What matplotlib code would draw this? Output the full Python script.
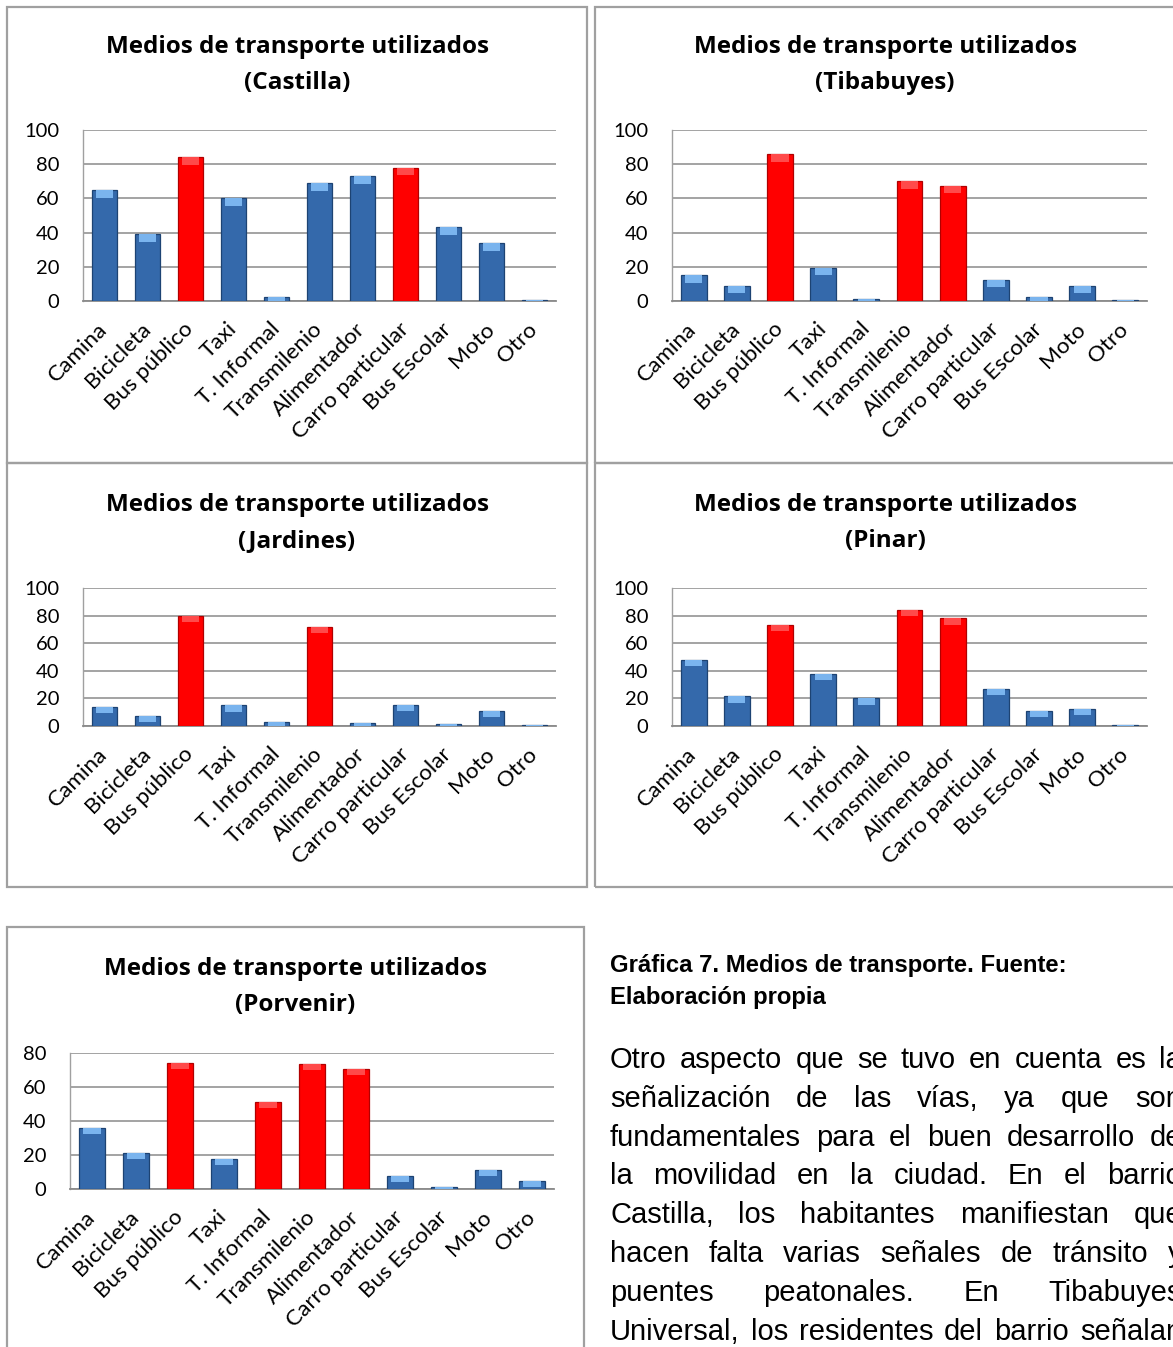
import matplotlib
matplotlib.use("Agg")
import matplotlib.pyplot as plt
from matplotlib.patches import Rectangle

# categories and survey values (percent of respondents)
categorias = ["Camina", "Bicicleta", "Bus público", "Taxi", "T. Informal",
              "Transmilenio", "Alimentador", "Carro particular", "Bus Escolar",
              "Moto", "Otro"]

castilla = [65, 39, 84, 60, 2.5, 69, 73, 78, 43, 34, 0.4]
tibabuyes = [15, 9, 86, 19.5, 1, 70, 67.5, 12.5, 2.5, 9, 0.4]
jardines = [14, 7.5, 80, 15, 3, 72, 2, 15.5, 1.5, 11, 0.5]
pinar = [48, 21.5, 73, 38, 20, 84, 78, 27, 11, 12.5, 0.7]
porvenir = [36, 21, 74, 17.5, 51, 73.5, 70.5, 7.5, 1, 11, 5]

# which bars are highlighted in red
rojo_castilla = ["Bus público", "Carro particular"]
rojo_tibabuyes = ["Bus público", "Transmilenio", "Alimentador"]
rojo_jardines = ["Bus público", "Transmilenio"]
rojo_pinar = ["Bus público", "Transmilenio", "Alimentador"]
rojo_porvenir = ["Bus público", "T. Informal", "Transmilenio", "Alimentador"]

nombres = ["Castilla", "Tibabuyes", "Jardines", "Pinar", "Porvenir"]

caption = ["Gráfica 7. Medios de transporte. Fuente:", "Elaboración propia"]
parrafo = ["Otro aspecto que se tuvo en cuenta es la",
           "señalización de las vías, ya que son",
           "fundamentales para el buen desarrollo de",
           "la movilidad en la ciudad. En el barrio",
           "Castilla, los habitantes manifiestan que",
           "hacen falta varias señales de tránsito y",
           "puentes peatonales. En Tibabuyes",
           "Universal, los residentes del barrio señalan"]

W, H = 1173, 1347
fig = plt.figure(figsize=(W / 100, H / 100), dpi=100)
fig.patch.set_facecolor("white")

CHART_FONT = ["Lato", "DejaVu Sans"]
TITLE_FONT = ["Open Sans", "DejaVu Sans"]
TEXT_FONT = ["Liberation Sans", "DejaVu Sans"]


def px_axes(x0, x1, y0, y1):
    # pixel box -> figure fraction axes
    return fig.add_axes([x0 / W, 1 - y1 / H, (x1 - x0) / W, (y1 - y0) / H])


def caja(x0, y0, x1, y1):
    fig.patches.append(Rectangle((x0 / W, 1 - y1 / H), (x1 - x0) / W, (y1 - y0) / H,
                                 transform=fig.transFigure, fill=False,
                                 edgecolor="#a0a0a0", linewidth=1.6))


def grafico(box, valores, rojos, nombre, ymax, title_x, title_y):
    ax = px_axes(*box)
    xs = range(len(categorias))
    colores = ["#ff0000" if c in rojos else "#3469ab" for c in categorias]
    bordes = ["#b00000" if c in rojos else "#1d4373" for c in categorias]
    tapas = ["#ff4a4a" if c in rojos else "#7ab4ee" for c in categorias]
    ax.bar(xs, valores, width=0.6, color=colores, edgecolor=bordes,
           linewidth=0.9, zorder=3)
    cap = ymax * 0.045
    ax.bar(xs, [min(v, cap) for v in valores],
           bottom=[v - min(v, cap) for v in valores],
           width=0.4, color=tapas, linewidth=0, zorder=4)
    ax.set_xlim(-0.5, len(categorias) - 0.5)
    ax.set_ylim(0, ymax)
    ax.set_yticks(range(0, ymax + 1, 20))
    ax.yaxis.grid(True, color="#8a8a8a", linewidth=1.1, zorder=0)
    ax.set_axisbelow(True)
    for s in ["top", "right"]:
        ax.spines[s].set_visible(False)
    ax.spines["left"].set_color("#a0a0a0")
    ax.spines["bottom"].set_color("#8a8a8a")
    ax.spines["left"].set_linewidth(1.0)
    ax.spines["bottom"].set_linewidth(1.3)
    ax.tick_params(axis="y", length=0, pad=17, labelsize=14.5)
    ax.tick_params(axis="x", length=0, pad=18)
    ax.set_xticks(list(xs))
    ax.set_xticklabels(categorias, rotation=45, ha="right", va="center",
                       rotation_mode="anchor", fontsize=16.2)
    for t in ax.get_xticklabels() + ax.get_yticklabels():
        t.set_family(CHART_FONT)
        t.set_color("black")
    fig.text(title_x / W, 1 - title_y / H, "Medios de transporte utilizados",
             ha="center", va="center", fontsize=17.5, fontweight="bold",
             family=TITLE_FONT)
    fig.text(title_x / W, 1 - (title_y + 36) / H, "(" + nombre + ")",
             ha="center", va="center", fontsize=17.5, fontweight="bold",
             family=TITLE_FONT)
    return ax


# panel frames
caja(7, 7, 587, 463)
caja(595, 7, 1190, 463)
caja(7, 463, 587, 887)
caja(595, 463, 1190, 887)
caja(7, 927, 584, 1360)

grafico((83, 556, 130, 301), castilla, rojo_castilla, nombres[0], 100, 297, 47)
grafico((672, 1147, 130, 301), tibabuyes, rojo_tibabuyes, nombres[1], 100, 885, 47)
grafico((83, 556, 588, 726), jardines, rojo_jardines, nombres[2], 100, 297, 505)
grafico((672, 1147, 588, 726), pinar, rojo_pinar, nombres[3], 100, 885, 505)
grafico((70, 554, 1053, 1189), porvenir, rojo_porvenir, nombres[4], 80, 295, 969)

# caption
for i, linea in enumerate(caption):
    fig.text(610 / W, 1 - (972 + 32 * i) / H, linea, ha="left", va="baseline",
             fontsize=17.2, fontweight="bold", family=TEXT_FONT)

# justified paragraph (right edge runs past the page crop, as in the source)
r = fig.canvas.get_renderer()
x_izq, x_der = 610, 1182
for i, linea in enumerate(parrafo):
    y = 1 - (1068 + 38.8 * i) / H
    palabras = linea.split()
    textos = [fig.text(0, y, p, ha="left", va="baseline", fontsize=21,
                       family=TEXT_FONT) for p in palabras]
    anchos = [t.get_window_extent(r).width for t in textos]
    hueco = (x_der - x_izq - sum(anchos)) / (len(palabras) - 1)
    x = x_izq
    for t, a in zip(textos, anchos):
        t.set_x(x / W)
        x += a + hueco

fig.savefig("out.png", dpi=100)
